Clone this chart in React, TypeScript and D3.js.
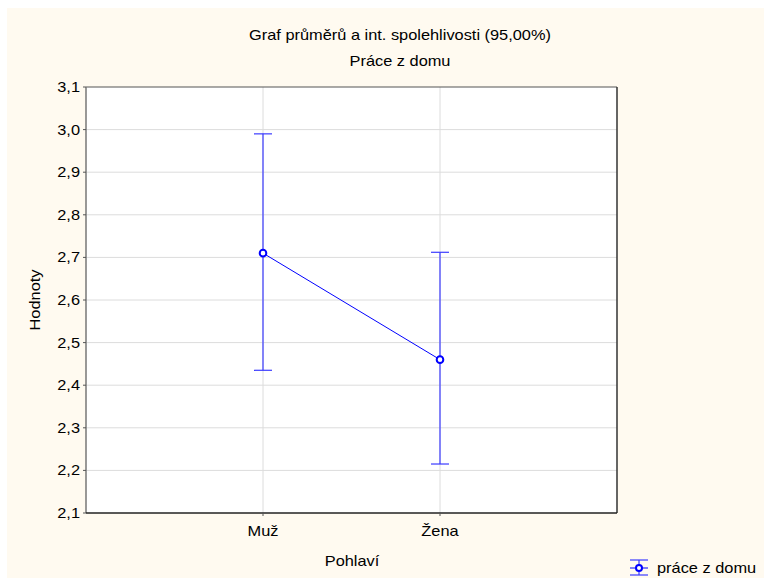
import React from "react";
import * as d3 from "d3";

// Categories and the interval estimates for "Práce z domu"
const categories = ["Muž", "Žena"];
const means = [2.71, 2.46];
const lower = [2.435, 2.215];
const upper = [2.99, 2.712];
const yTicks = [2.1, 2.2, 2.3, 2.4, 2.5, 2.6, 2.7, 2.8, 2.9, 3.0, 3.1];

const title = "Graf průměrů a int. spolehlivosti (95,00%)";
const subtitle = "Práce z domu";
const xLabel = "Pohlaví";
const yLabel = "Hodnoty";
const legendLabel = "práce z domu";

const W = 764;
const H = 578;
const left = 86;
const right = 617;
const top = 87;
const bottom = 513;
const font = "Liberation Sans, Arial, sans-serif";
const blue = "#0000ff";
const barBlue = "#3b3bff";
const FS = 14;
const SX = 1.17;

type LabelProps = {
  x: number;
  y: number;
  anchor?: "start" | "middle" | "end";
  rotate?: number;
  children: React.ReactNode;
};

// Text drawn with a slightly widened face
function Label({ x, y, anchor = "start", rotate = 0, children }: LabelProps) {
  return (
    <text
      transform={`translate(${x},${y}) rotate(${rotate}) scale(${SX},1)`}
      textAnchor={anchor}
      fontSize={FS}
      fill="#000"
    >
      {children}
    </text>
  );
}

export default function App() {
  const x = d3.scaleLinear().domain([0, categories.length + 1]).range([left, right]);
  const y = d3.scaleLinear().domain([2.1, 3.1]).range([bottom, top]);
  const fmt = (v: number) => v.toFixed(1).replace(".", ",");
  const line = d3
    .line<number>()
    .x((_, i) => x(i + 1))
    .y((d) => y(d));

  const lx = 639;
  const ly = 568;

  return (
    <svg
      width={W}
      height={H}
      style={{ position: "absolute", left: 0, top: 0 }}
      fontFamily={font}
    >
      <rect x={0} y={0} width={W} height={H} fill="#ffffff" />
      <rect x={7} y={8} width={W - 7} height={H - 8} fill="#fffaf0" />
      <rect x={left} y={top} width={right - left} height={bottom - top} fill="#ffffff" />

      {/* grid */}
      {yTicks.slice(1, -1).map((t) => (
        <line key={t} x1={left} x2={right} y1={y(t)} y2={y(t)} stroke="#dcdcdc" strokeWidth={1} />
      ))}
      {categories.map((c, i) => (
        <line key={c} x1={x(i + 1)} x2={x(i + 1)} y1={top} y2={bottom} stroke="#dcdcdc" strokeWidth={1} />
      ))}

      {/* frame */}
      <line x1={left} x2={right} y1={top} y2={top} stroke="#555" strokeWidth={1.2} />
      <line x1={right} x2={right} y1={top} y2={bottom} stroke="#333" strokeWidth={1.5} />
      <line x1={left} x2={left} y1={top} y2={bottom} stroke="#777" strokeWidth={1.5} />
      <line x1={left} x2={right} y1={bottom} y2={bottom} stroke="#222" strokeWidth={1.5} />

      {/* y axis ticks and labels */}
      {yTicks.map((t) => (
        <g key={t}>
          <line x1={left - 3} x2={left} y1={y(t)} y2={y(t)} stroke="#555" />
          <Label x={left - 6} y={y(t) + 5} anchor="end">
            {fmt(t)}
          </Label>
        </g>
      ))}

      {/* x axis ticks and labels */}
      {categories.map((c, i) => (
        <g key={c}>
          <line x1={x(i + 1)} x2={x(i + 1)} y1={bottom} y2={bottom + 3} stroke="#555" />
          <Label x={x(i + 1)} y={bottom + 23} anchor="middle">
            {c}
          </Label>
        </g>
      ))}

      {/* error bars */}
      {categories.map((c, i) => (
        <g key={c} stroke={barBlue} strokeWidth={1.2}>
          <line x1={x(i + 1)} x2={x(i + 1)} y1={y(lower[i])} y2={y(upper[i])} />
          <line x1={x(i + 1) - 9} x2={x(i + 1) + 9} y1={y(upper[i])} y2={y(upper[i])} />
          <line x1={x(i + 1) - 9} x2={x(i + 1) + 9} y1={y(lower[i])} y2={y(lower[i])} />
        </g>
      ))}

      {/* means */}
      <path d={line(means) ?? ""} fill="none" stroke={blue} strokeWidth={1} />
      {means.map((m, i) => (
        <circle key={i} cx={x(i + 1)} cy={y(m)} r={3.3} fill="#ffffff" stroke={blue} strokeWidth={2} />
      ))}

      {/* titles */}
      <Label x={400} y={40} anchor="middle">
        {title}
      </Label>
      <Label x={400} y={66} anchor="middle">
        {subtitle}
      </Label>
      <Label x={352} y={566} anchor="middle">
        {xLabel}
      </Label>
      <Label x={40} y={300} anchor="middle" rotate={-90}>
        {yLabel}
      </Label>

      {/* legend */}
      <g>
        <line x1={lx} x2={lx} y1={ly - 8} y2={ly + 7} stroke={barBlue} strokeWidth={1.2} />
        <line x1={lx - 9} x2={lx + 9} y1={ly - 8} y2={ly - 8} stroke={barBlue} strokeWidth={1.2} />
        <line x1={lx - 9} x2={lx + 9} y1={ly + 7} y2={ly + 7} stroke={barBlue} strokeWidth={1.2} />
        <line x1={lx - 9} x2={lx + 9} y1={ly} y2={ly} stroke={blue} strokeWidth={1} />
        <circle cx={lx} cy={ly} r={3} fill="#ffffff" stroke={blue} strokeWidth={2} />
        <Label x={lx + 18} y={ly + 5}>
          {legendLabel}
        </Label>
      </g>
    </svg>
  );
}
